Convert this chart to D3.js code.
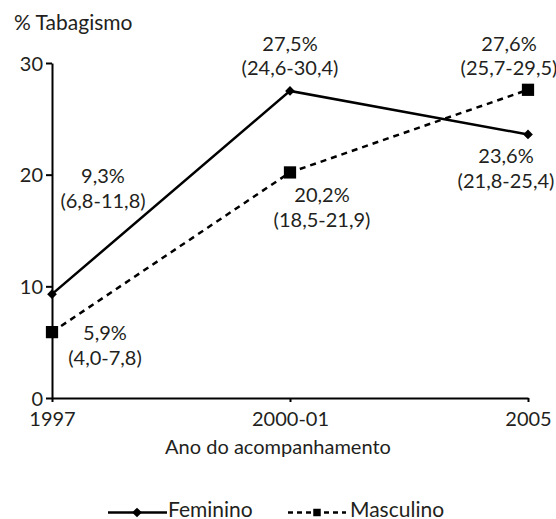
<!DOCTYPE html>
<html><head><meta charset="utf-8">
<script src="https://cdn.jsdelivr.net/npm/d3@7"></script>
<style>body{margin:0;background:#fff}svg{display:block}text{font-family:Lato,"Open Sans",sans-serif;fill:#231f20}</style>
</head><body><svg id="c" width="556" height="519"></svg>
<script>
const categories = ["1997", "2000-01", "2005"];
const feminino = [9.3, 27.5, 23.6];
const masculino = [5.9, 20.2, 27.6];
const femLabels = [["9,3%", "(6,8-11,8)"], ["27,5%", "(24,6-30,4)"], ["23,6%", "(21,8-25,4)"]];
const mascLabels = [["5,9%", "(4,0-7,8)"], ["20,2%", "(18,5-21,9)"], ["27,6%", "(25,7-29,5)"]];
const yTicks = [0, 10, 20, 30];

const svg = d3.select("#c");
const x = d3.scalePoint().domain(categories).range([52, 528]);
const y = d3.scaleLinear().domain([0, 30]).range([398, 63]);

const fs = 20;
// axes
const gx = svg.append("g").attr("transform", "translate(0,398)")
  .call(d3.axisBottom(x).tickSizeInner(4).tickSizeOuter(0));
const gy = svg.append("g").attr("transform", "translate(52,0)")
  .call(d3.axisLeft(y).tickValues(yTicks).tickSizeInner(6).tickSizeOuter(0).tickPadding(3));
[gx, gy].forEach(g => {
  g.select(".domain").attr("stroke", "#000").attr("stroke-width", 2);
  g.selectAll(".tick line").attr("stroke", "#000").attr("stroke-width", 2);
  g.selectAll("text").attr("font-size", fs).attr("font-family", "Lato").attr("fill", "#231f20");
});
gy.selectAll(".tick text").attr("dy", "0.36em");
gx.selectAll(".tick text").attr("y", 28).attr("dy", 0);

svg.append("text").attr("x", 14).attr("y", 30).attr("font-size", fs + 1).text("% Tabagismo");
svg.append("text").attr("x", 278).attr("y", 454).attr("text-anchor", "middle").attr("font-size", fs).text("Ano do acompanhamento");

const line = d3.line().x((d, i) => x(categories[i])).y(d => y(d));
svg.append("path").datum(masculino).attr("d", line).attr("fill", "none").attr("stroke", "#000")
  .attr("stroke-width", 2.5).attr("stroke-dasharray", "6,5");
svg.append("path").datum(feminino).attr("d", line).attr("fill", "none").attr("stroke", "#000")
  .attr("stroke-width", 2.5);

const diamond = d3.symbol().type(d3.symbolDiamond2).size(60);
const square = d3.symbol().type(d3.symbolSquare).size(150);
svg.selectAll(".fm").data(feminino).join("path")
  .attr("transform", (d, i) => `translate(${x(categories[i])},${y(d)})`)
  .attr("d", diamond).attr("fill", "#000");
svg.selectAll(".ms").data(masculino).join("path")
  .attr("transform", (d, i) => `translate(${x(categories[i])},${y(d)})`)
  .attr("d", square).attr("fill", "#000");

// label offsets relative to the point: [dx, dy of first baseline]
const femOff = [[51, -111], [0, -40], [-22, 29]];
const mascOff = [[53, 8], [32, 30], [-19, -39]];
function labels(vals, labs, offs) {
  vals.forEach((v, i) => {
    const px = x(categories[i]) + offs[i][0], py = y(v) + offs[i][1];
    const t = svg.append("text").attr("text-anchor", "middle").attr("font-size", fs);
    t.append("tspan").attr("x", px).attr("y", py).text(labs[i][0]);
    t.append("tspan").attr("x", px).attr("y", py + 24.5).text(labs[i][1]);
  });
}
labels(feminino, femLabels, femOff);
labels(masculino, mascLabels, mascOff);

// legend
const lg = svg.append("g");
lg.append("line").attr("x1", 108).attr("x2", 167).attr("y1", 512.5).attr("y2", 512.5).attr("stroke", "#000").attr("stroke-width", 2.5);
lg.append("path").attr("transform", "translate(137,512.5)").attr("d", diamond).attr("fill", "#000");
lg.append("text").attr("x", 168).attr("y", 517).attr("font-size", fs + 1).text("Feminino");
lg.append("line").attr("x1", 288).attr("x2", 346).attr("y1", 512.5).attr("y2", 512.5).attr("stroke", "#000").attr("stroke-width", 2.5).attr("stroke-dasharray", "5,4");
lg.append("path").attr("transform", "translate(317,512.5)").attr("d", d3.symbol().type(d3.symbolSquare).size(56)).attr("fill", "#000");
lg.append("text").attr("x", 350).attr("y", 517).attr("font-size", fs + 1).text("Masculino");
</script></body></html>
